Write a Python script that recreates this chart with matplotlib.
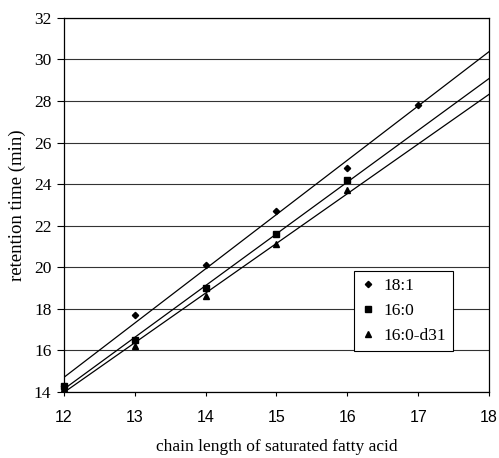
import numpy as np
import matplotlib
matplotlib.use('Agg')
import matplotlib.pyplot as plt
from matplotlib.legend_handler import HandlerLine2D

# data
x_181 = [12, 13, 14, 15, 16, 17]
y_181 = [14.3, 17.7, 20.1, 22.7, 24.8, 27.8]
x_160 = [12, 13, 14, 15, 16]
y_160 = [14.3, 16.5, 19.0, 21.6, 24.2]
x_d31 = [12, 13, 14, 15, 16]
y_d31 = [14.2, 16.2, 18.6, 21.1, 23.7]
labels = ['18:1', '16:0', '16:0-d31']
markers = ['D', 's', '^']
msizes = [3.2, 4.2, 4.6]

fig = plt.figure(figsize=(4.99, 4.58), dpi=100)
ax = fig.add_axes([0.128, 0.144, 0.852, 0.817])

xfit = np.array([12, 18])
series = [(x_181, y_181), (x_160, y_160), (x_d31, y_d31)]
handles = []
for (xs, ys), lab, mk, ms in zip(series, labels, markers, msizes):
    # linear trendline over the full axis range
    k, b = np.polyfit(xs, ys, 1)
    ax.plot(xfit, k * xfit + b, color='black', lw=0.9, zorder=3)
    h, = ax.plot(xs, ys, linestyle='none', marker=mk, ms=ms, color='black',
                 label=lab, zorder=4, clip_on=False)
    handles.append(h)

ax.set_xlim(12, 18)
ax.set_ylim(14, 32)
ax.set_xticks(range(12, 19))
ax.set_yticks(range(14, 33, 2))
ax.yaxis.grid(True, color='#333333', lw=0.8)
ax.set_axisbelow(True)

for s in ax.spines.values():
    s.set_linewidth(0.9)
ax.tick_params(axis='y', direction='out', length=5, width=0.8, pad=4)
ax.tick_params(axis='x', direction='out', length=3, width=0.8, pad=10)
for t in ax.get_yticklabels():
    t.set_fontfamily('Liberation Serif')
    t.set_fontsize(12.5)
for t in ax.get_xticklabels():
    t.set_fontfamily('Liberation Sans')
    t.set_fontsize(11.5)

ax.set_xlabel('chain length of saturated fatty acid', family='Liberation Serif',
              fontsize=12.5, labelpad=10)
ax.set_ylabel('retention time (min)', family='Liberation Serif', fontsize=13.5,
              labelpad=6)

leg = ax.legend(handles=handles, loc='upper left', bbox_to_anchor=(0.683, 0.323),
                prop={'family': 'Liberation Serif', 'size': 12.5},
                frameon=True, fancybox=False, handlelength=0.8, handletextpad=0.5,
                borderpad=0.4, labelspacing=0.5, borderaxespad=0,
                handler_map={h: HandlerLine2D(numpoints=1) for h in handles})
leg.get_frame().set_edgecolor('black')
leg.get_frame().set_linewidth(0.8)
leg.get_frame().set_alpha(1)
leg.set_zorder(5)

fig.savefig('out.png', dpi=100)
